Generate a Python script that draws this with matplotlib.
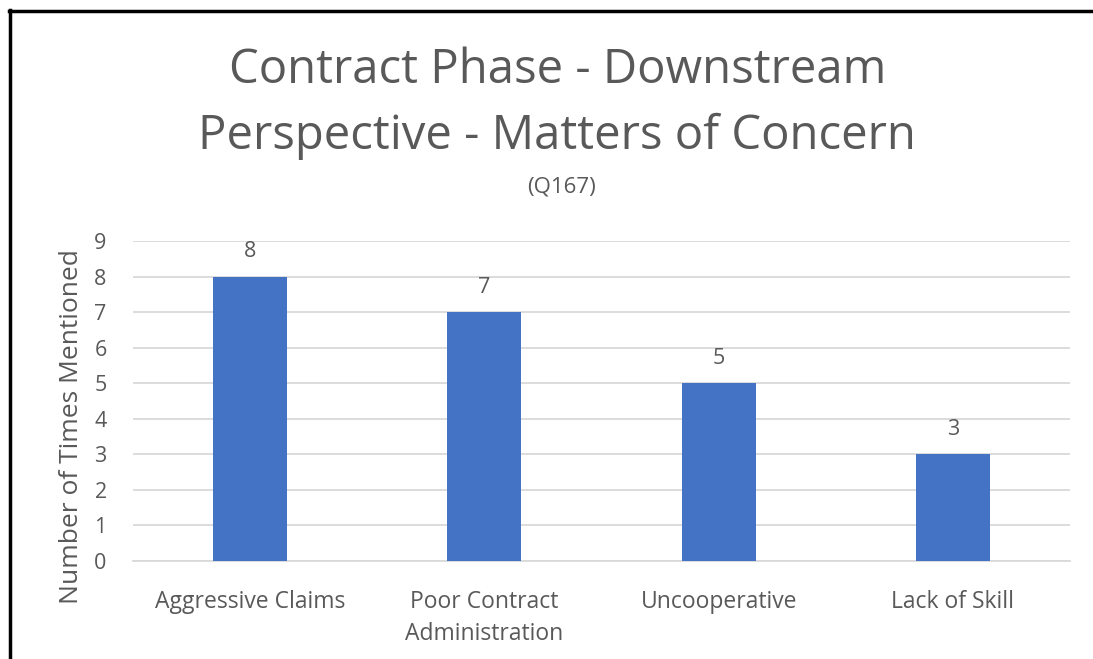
import matplotlib.pyplot as plt
from matplotlib.lines import Line2D

# ── Data ──────────────────────────────────────────────────────────────────────
categories = ["Aggressive Claims", "Poor Contract\nAdministration", "Uncooperative", "Lack of Skill"]
counts     = [8, 7, 5, 3]
yticks     = list(range(0, 10))

BAR_COLOR  = "#4472C4"
TEXT_COLOR = "#595959"
GRID_COLOR = "#D9D9D9"

plt.rcParams["font.family"] = ["Open Sans", "DejaVu Sans"]

fig = plt.figure(figsize=(10.93, 6.59), dpi=100)
ax = fig.add_axes([0.1217, 0.1487, 0.8573, 0.4856])

x = range(len(categories))
ax.bar(x, counts, width=0.316, color=BAR_COLOR, zorder=3)
for xi, v in zip(x, counts):
    ax.text(xi, v + 0.4, str(v), ha="center", va="bottom", fontsize=15.5, color=TEXT_COLOR)

ax.set_xlim(-0.5, len(categories) - 0.5)
ax.set_ylim(0, 9)
ax.set_yticks(yticks)
ax.set_xticks(list(x))
ax.set_xticklabels(categories, fontsize=16.5, color=TEXT_COLOR, linespacing=1.45)
ax.tick_params(axis="y", labelsize=15.5, labelcolor=TEXT_COLOR, length=0, pad=19)
ax.tick_params(axis="x", length=0, pad=21)
ax.yaxis.grid(True, color=GRID_COLOR, lw=1.3, zorder=0)
for s in ["top", "right", "left"]:
    ax.spines[s].set_visible(False)
ax.spines["bottom"].set_color(GRID_COLOR)
ax.spines["bottom"].set_linewidth(1.3)

ax.set_ylabel("Number of Times Mentioned", fontsize=19, color=TEXT_COLOR)
ax.yaxis.set_label_coords(-0.052, 0.42)

fig.text(0.51, 0.843, "Contract Phase - Downstream\nPerspective - Matters of Concern",
         ha="center", va="center", fontsize=34, color=TEXT_COLOR, linespacing=1.5)
fig.text(0.514, 0.716, "(Q167)", ha="center", va="center", fontsize=16, color=TEXT_COLOR)

# border of the original screenshot (left and top edges)
fig.add_artist(Line2D([9.5 / 1093, 9.5 / 1093], [0, 1 - 9.5 / 659], color="black", lw=2.5,
                      transform=fig.transFigure))
fig.add_artist(Line2D([8.5 / 1093, 1], [1 - 10.5 / 659, 1 - 10.5 / 659], color="black", lw=2.5,
                      transform=fig.transFigure))

fig.savefig("out.png", dpi=100)
